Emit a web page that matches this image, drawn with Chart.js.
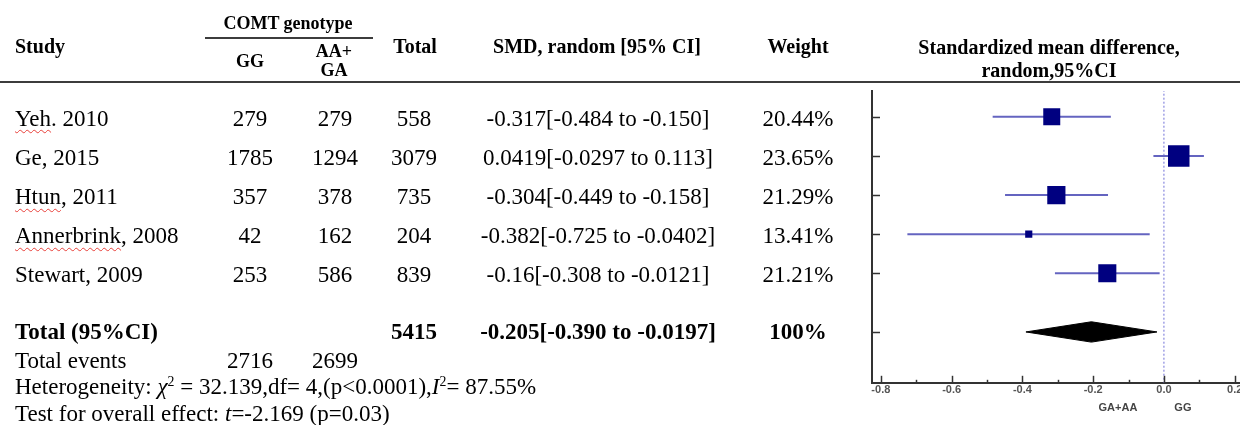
<!DOCTYPE html>
<html><head><meta charset="utf-8">
<script src="https://cdn.jsdelivr.net/npm/chart.js@4.4.1/dist/chart.umd.min.js"></script>
<style>
html,body{margin:0;padding:0;background:#fff;}
#wrap{position:relative;width:1240px;height:425px;overflow:hidden;font-family:"Liberation Serif","Times New Roman",serif;color:#000;}
#c{position:absolute;left:0;top:0;}
.t{position:absolute;white-space:nowrap;line-height:1;}
.c{transform:translate(-50%,-50%);}
.l{transform:translate(0,-50%);}
.b{font-weight:bold;}
.h20{font-size:20px}.h18{font-size:18px}.r23{font-size:23px}
.wavy{text-decoration:underline wavy #e8403a;text-decoration-thickness:1px;text-underline-offset:4px;}
.rule{position:absolute;background:#3c3c3c;}
.ax{font-family:"Liberation Sans",Arial,sans-serif;font-weight:bold;font-size:11px;color:#444;}
</style></head>
<body><div id="wrap"><canvas id="c" width="1240" height="425"></canvas></div>
<script>
// ---- data ----
const studies   = ["Yeh. 2010", "Ge, 2015", "Htun, 2011", "Annerbrink, 2008", "Stewart, 2009"];
const nGG       = [279, 1785, 357, 42, 253];
const nAAGA     = [279, 1294, 378, 162, 586];
const nTotal    = [558, 3079, 735, 204, 839];
const smd       = ["-0.317", "0.0419", "-0.304", "-0.382", "-0.16"];
const ciLow     = ["-0.484", "-0.0297", "-0.449", "-0.725", "-0.308"];
const ciHigh    = ["-0.150", "0.113", "-0.158", "-0.0402", "-0.0121"];
const weights   = [20.44, 23.65, 21.29, 13.41, 21.21];
const pooled    = ["-0.205", "-0.390", "-0.0197"];   // estimate, low, high
const pooledTotal = 5415;
const pooledWeight = "100%";
const eventsGG = 2716, eventsAAGA = 2699;
const hetChi2 = "32.139", hetDf = 4, hetP = "<0.0001", hetI2 = "87.55";
const overallT = "-2.169", overallP = "0.03";
const xTicks = [-0.8, -0.6, -0.4, -0.2, 0.0, 0.2];
const flagged = ["Yeh", "Htun", "Annerbrink"];

// ---- layout ----
const pooledRow = studies.length + 1.5;
const rowPositions = studies.map((s, i) => i + 1).concat([pooledRow]);
const CI_COLOR = '#6464c0', SQ_COLOR = '#000080';
const sq = w => 1.4 * (w - 8.3) / Math.SQRT2;

const datasets = [];
// squares
datasets.push({
  type: 'scatter', order: 0,
  data: studies.map((s, i) => ({x: Number(smd[i]), y: i + 1})),
  pointStyle: 'rect',
  pointRadius: weights.map(sq),
  pointHoverRadius: weights.map(sq),
  backgroundColor: SQ_COLOR, borderColor: SQ_COLOR, borderWidth: 0
});
// diamond
const dh = 0.26;
datasets.push({
  type: 'line', order: 1,
  data: [
    {x: Number(pooled[1]), y: pooledRow},
    {x: Number(pooled[0]), y: pooledRow - dh},
    {x: Number(pooled[2]), y: pooledRow},
    {x: Number(pooled[0]), y: pooledRow + dh},
    {x: Number(pooled[1]), y: pooledRow}
  ],
  borderColor: '#000', borderWidth: 1, backgroundColor: '#000',
  fill: 'shape', pointRadius: 0, tension: 0
});
// CI lines
studies.forEach((s, i) => datasets.push({
  type: 'line', order: 2,
  data: [{x: Number(ciLow[i]), y: i + 1}, {x: Number(ciHigh[i]), y: i + 1}],
  borderColor: CI_COLOR, borderWidth: 2, pointRadius: 0, fill: false
}));
// zero line
datasets.push({
  type: 'line', order: 3,
  data: [{x: 0, y: 0}, {x: 0, y: 9}],
  borderColor: '#7070d8', borderWidth: 1, borderDash: [2, 2], pointRadius: 0, fill: false
});

const innerTicks = {
  id: 'innerTicks',
  afterDraw(chart) {
    const {ctx, scales: {x, y}, chartArea: a} = chart;
    ctx.save();
    ctx.strokeStyle = '#333'; ctx.lineWidth = 1.5;
    rowPositions.forEach(v => {
      const py = Math.round(y.getPixelForValue(v)) + 0.5;
      ctx.beginPath(); ctx.moveTo(a.left, py); ctx.lineTo(a.left + 8, py); ctx.stroke();
    });
    for (let k = -8; k <= 2; k++) {
      const px = Math.round(x.getPixelForValue(k / 10)) + 0.5;
      const len = (k % 2 === 0) ? 7 : 3;
      ctx.beginPath(); ctx.moveTo(px, a.bottom); ctx.lineTo(px, a.bottom - len); ctx.stroke();
    }
    ctx.restore();
  }
};

const chart = new Chart(document.getElementById('c'), {
  type: 'scatter',
  data: {datasets},
  options: {
    responsive: false, animation: false, events: [],
    layout: {padding: {left: 872, top: 91, right: 0, bottom: 27}, autoPadding: false},
    plugins: {legend: {display: false}, tooltip: {enabled: false}},
    scales: {
      x: {
        type: 'linear', min: -0.825, max: 0.215,
        afterBuildTicks: s => { s.ticks = xTicks.map(v => ({value: v})); },
        afterFit: s => { s.paddingLeft = 0; s.paddingRight = 0; },
        grid: {display: false, drawTicks: false},
        border: {display: true, color: '#333', width: 2},
        ticks: {color: '#555', padding: 1, maxRotation: 0, autoSkip: false,
          font: {family: 'Liberation Sans', size: 11, weight: 'bold'},
          callback: v => Number(v).toFixed(1)}
      },
      y: {
        type: 'linear', min: 0.34, max: 7.8, reverse: true,
        afterFit: s => { s.paddingTop = 0; s.paddingBottom = 0; },
        grid: {display: false, drawTicks: false},
        border: {display: true, color: '#333', width: 2},
        ticks: {display: false}
      }
    }
  },
  plugins: [innerTicks]
});

// ---- table text overlay ----
const wrap = document.getElementById('wrap');
function put(html, x, y, cls) {
  const d = document.createElement('div');
  d.className = 't ' + cls;
  d.innerHTML = html;
  d.style.left = x + 'px'; d.style.top = y + 'px';
  wrap.appendChild(d);
}
function rule(x, y, w, h) {
  const d = document.createElement('div');
  d.className = 'rule';
  Object.assign(d.style, {left: x + 'px', top: y + 'px', width: w + 'px', height: h + 'px'});
  wrap.appendChild(d);
}
const COL = {study: 15, gg: 250, aa: 335, total: 414, smd: 598, weight: 798, plot: 1049};

// header
put('COMT genotype', 288, 23, 'c b h18');
rule(205, 37, 168, 1.5);
put('Study', COL.study, 46, 'l b h20');
put('GG', COL.gg, 61, 'c b h18');
put('AA+', COL.aa - 1, 51, 'c b h18');
put('GA', COL.aa - 1, 70, 'c b h18');
put('Total', 415, 46, 'c b h20');
put('SMD, random [95% CI]', 597, 46, 'c b h20');
put('Weight', COL.weight, 46, 'c b h20');
put('Standardized mean difference,', COL.plot, 47, 'c b h20');
put('random,95%CI', COL.plot, 70, 'c b h20');
rule(0, 81, 1240, 2);

// study rows
const yS = chart.scales.y;
function markName(name) {
  let out = name;
  flagged.forEach(w => { out = out.replace(w, '<span class="wavy">' + w + '</span>'); });
  return out;
}
studies.forEach((s, i) => {
  const py = yS.getPixelForValue(i + 1) + 1;
  put(markName(s), COL.study, py, 'l r23');
  put(String(nGG[i]), COL.gg, py, 'c r23');
  put(String(nAAGA[i]), COL.aa, py, 'c r23');
  put(String(nTotal[i]), COL.total, py, 'c r23');
  put(smd[i] + '[' + ciLow[i] + ' to ' + ciHigh[i] + ']', COL.smd, py, 'c r23');
  put(weights[i].toFixed(2) + '%', COL.weight, py, 'c r23');
});
// pooled row
const pp = yS.getPixelForValue(pooledRow) - 1;
put('Total (95%CI)', COL.study, pp, 'l b r23');
put(String(pooledTotal), COL.total, pp, 'c b r23');
put(pooled[0] + '[' + pooled[1] + ' to ' + pooled[2] + ']', COL.smd, pp, 'c b r23');
put(pooledWeight, COL.weight, pp, 'c b r23');
// footer
put('Total events', COL.study, pp + 29, 'l r23');
put(String(eventsGG), COL.gg, pp + 29, 'c r23');
put(String(eventsAAGA), COL.aa, pp + 29, 'c r23');
put('Heterogeneity: <i>χ</i><sup style="font-size:60%;vertical-align:0.55em">2</sup> = ' + hetChi2 + ',df= ' + hetDf +
    ',(p' + hetP.replace('<', '&lt;') + '),<i>I</i><sup style="font-size:60%;vertical-align:0.55em">2</sup>= ' + hetI2 + '%',
    COL.study, pp + 55, 'l r23');
put('Test for overall effect: <i>t</i>=' + overallT + ' (p=' + overallP + ')', COL.study, pp + 82, 'l r23');

// favours labels under the axis
const xS = chart.scales.x;
const z = xS.getPixelForValue(0);
put('GA+AA', z - 46, 407, 'c ax');
put('GG', z + 19, 407, 'c ax');
</script>
</body></html>
